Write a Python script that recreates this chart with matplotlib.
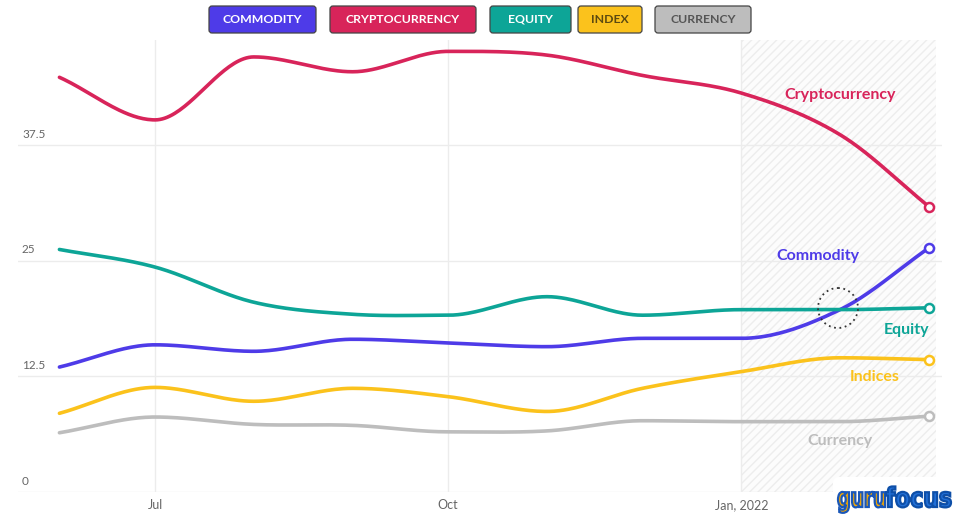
import numpy as np
import matplotlib
matplotlib.use("Agg")
import matplotlib.pyplot as plt
import matplotlib.dates as mdates
from matplotlib.patches import FancyBboxPatch, Rectangle, Circle, PathPatch
from matplotlib.textpath import TextPath
from matplotlib.font_manager import FontProperties
from matplotlib.transforms import Affine2D
from datetime import datetime

plt.rcParams['font.family'] = ['Lato', 'DejaVu Sans']

# datos mensuales (jun 2021 - mar 2022)
fechas = [datetime(2021, 6, 1), datetime(2021, 7, 1), datetime(2021, 8, 1), datetime(2021, 9, 1),
          datetime(2021, 10, 1), datetime(2021, 11, 1), datetime(2021, 12, 1), datetime(2022, 1, 1),
          datetime(2022, 2, 1), datetime(2022, 3, 1)]
commodity = [13.5, 15.9, 15.2, 16.5, 16.1, 15.7, 16.6, 16.6, 19.7, 26.4]
crypto = [44.8, 40.2, 47.0, 45.4, 47.6, 47.2, 45.0, 43.1, 38.6, 30.8]
equity = [26.2, 24.3, 20.5, 19.2, 19.1, 21.1, 19.1, 19.7, 19.7, 19.9]
indices = [8.5, 11.3, 9.8, 11.2, 10.3, 8.7, 11.2, 13.0, 14.5, 14.3]
currency = [6.4, 8.1, 7.3, 7.2, 6.5, 6.6, 7.7, 7.6, 7.6, 8.2]

nombres = ['Commodity', 'Cryptocurrency', 'Equity', 'Indices', 'Currency']
colores = ['#4E3BE8', '#D8245A', '#0DA597', '#FBC21C', '#BDBDBD']
series = [commodity, crypto, equity, indices, currency]

legend_labels = ['COMMODITY', 'CRYPTOCURRENCY', 'EQUITY', 'INDEX', 'CURRENCY']
yticks = [0, 12.5, 25, 37.5]
ytick_labels = ['0', '12.5', '25', '37.5']
xticks = [datetime(2021, 7, 1), datetime(2021, 10, 1), datetime(2022, 1, 1)]
xtick_labels = ['Jul', 'Oct', 'Jan, 2022']


def suavizar(t, y, n=40):
    # curva tipo spline, tangente plana en extremos locales
    t = np.asarray(t, float)
    y = np.asarray(y, float)
    m = np.zeros_like(y)
    for i in range(1, len(y) - 1):
        if (y[i] - y[i - 1]) * (y[i + 1] - y[i]) > 0:
            m[i] = (y[i + 1] - y[i - 1]) / (t[i + 1] - t[i - 1])
    m[0] = (y[1] - y[0]) / (t[1] - t[0])
    m[-1] = (y[-1] - y[-2]) / (t[-1] - t[-2])
    xs, ys = [], []
    for i in range(len(y) - 1):
        h = t[i + 1] - t[i]
        s = np.linspace(0, 1, n, endpoint=(i == len(y) - 2))
        h00 = 2 * s**3 - 3 * s**2 + 1
        h10 = s**3 - 2 * s**2 + s
        h01 = -2 * s**3 + 3 * s**2
        h11 = s**3 - s**2
        xs.append(t[i] + s * h)
        ys.append(h00 * y[i] + h10 * h * m[i] + h01 * y[i + 1] + h11 * h * m[i + 1])
    return np.concatenate(xs), np.concatenate(ys)


fig = plt.figure(figsize=(9.6, 5.22), dpi=100)
ax = fig.add_axes([18 / 960, 1 - 492 / 522, (942 - 18) / 960, (492 - 40) / 522])

t = mdates.date2num(fechas)
x0 = mdates.date2num(datetime(2021, 5, 19))
x1 = mdates.date2num(datetime(2022, 3, 5))
ax.set_xlim(x0, x1)
ax.set_ylim(0, 48.83)

# zona sombreada (proyeccion)
hx0 = mdates.date2num(datetime(2022, 1, 1))
hx1 = mdates.date2num(datetime(2022, 3, 3))
ax.add_patch(Rectangle((hx0, 0), hx1 - hx0, 48.83, facecolor='#FCFCFC', edgecolor='#EDEDED',
                       hatch='////', linewidth=0, zorder=0))

for yv, yl in zip(yticks, ytick_labels):
    ax.axhline(yv, color='#ECECEC', lw=1, zorder=1)
    ax.text(4 / 924, yv + 0.55, yl, transform=ax.get_yaxis_transform(),
            fontsize=8.5, color='#666666', va='bottom', ha='left')
for xv in xticks:
    ax.axvline(mdates.date2num(xv), color='#ECECEC', lw=1, zorder=1)

for vals, col in zip(series, colores):
    xs, ys = suavizar(t, vals)
    ax.plot(xs, ys, color=col, lw=2.6, zorder=3, solid_capstyle='round')
    ax.plot(t[-1], vals[-1], 'o', ms=6.5, mfc='white', mec=col, mew=1.8, zorder=4)

ax.set_xticks(mdates.date2num(xticks))
ax.set_xticklabels(xtick_labels, fontsize=9, color='#666666')
ax.tick_params(axis='x', length=0, pad=5)
ax.set_yticks([])
for s in ax.spines.values():
    s.set_visible(False)

# etiquetas de series
pos_lbl = [(datetime(2022, 1, 25), 25.5), (datetime(2022, 2, 1), 42.9), (datetime(2022, 2, 22), 17.5),
           (datetime(2022, 2, 12), 12.4), (datetime(2022, 2, 1), 5.5)]
for nom, col, (d, yv) in zip(nombres, colores, pos_lbl):
    ax.text(mdates.date2num(d), yv, nom, color=col, fontsize=11.5, fontweight='bold',
            ha='center', va='center', zorder=5)

# capa en pixeles para leyenda y logo
ov = fig.add_axes([0, 0, 1, 1], facecolor='none')
ov.set_xlim(0, 960)
ov.set_ylim(522, 0)
ov.axis('off')

# circulo punteado en el cruce
ov.add_patch(Circle((838, 308), 20, fill=False, edgecolor='#333333', lw=1.3, linestyle=(0, (1, 2)), zorder=6))

cajas = [(209, 316), (330, 476), (490, 571), (578, 642), (655, 751)]
txt_col = ['white', 'white', 'white', '#5C4A10', '#555555']
for (a, b), lab, col, tc in zip(cajas, legend_labels, colores, txt_col):
    ov.add_patch(FancyBboxPatch((a, 6), b - a, 27, boxstyle='round,pad=0,rounding_size=3',
                                facecolor=col, edgecolor='#444444', lw=0.9))
    ov.text((a + b) / 2, 19.5, lab, color=tc, fontsize=8.8, fontweight='bold', ha='center', va='center')

# logo gurufocus
ov.add_patch(FancyBboxPatch((833, 477), 124, 42, boxstyle='round,pad=0,rounding_size=6',
                            facecolor='white', edgecolor='none', zorder=6))
fp = FontProperties(family='DejaVu Sans', weight='bold')


def palabra(txt, xa, xb, fc, ec):
    tp = TextPath((0, 0), txt, size=27, prop=fp)
    ext = tp.get_extents()
    sx = (xb - xa) / ext.width
    tr = Affine2D().translate(-ext.x0, 0).scale(sx, -1).translate(xa, 507)
    ov.add_patch(PathPatch(tr.transform_path(tp), facecolor=fc, edgecolor=ec, lw=1.6, zorder=7))


palabra('guru', 838, 885, '#F5A800', '#1A57B8')
palabra('focus', 886, 951, '#2270D8', '#0E4FA8')

fig.savefig('out.png', dpi=100)
